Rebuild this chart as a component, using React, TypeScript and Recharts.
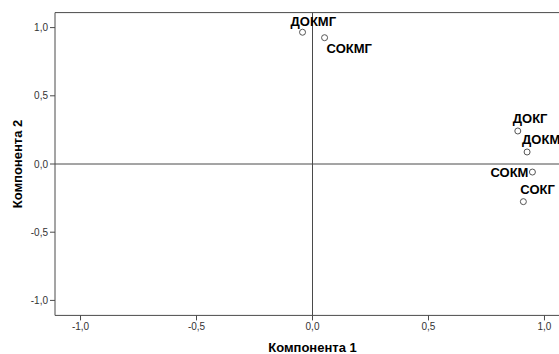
import * as React from "react"
import { ScatterChart, Scatter, XAxis, YAxis, ReferenceLine, ReferenceArea } from "recharts"

// component loadings
const pointNames = ["ДОКМГ", "СОКМГ", "ДОКГ", "ДОКМ", "СОКМ", "СОКГ"]
const comp1 = [-0.043, 0.052, 0.885, 0.925, 0.948, 0.909]
const comp2 = [0.966, 0.926, 0.242, 0.088, -0.059, -0.276]
const axisTicks = [-1, -0.5, 0, 0.5, 1]
const axisDomain = [-1.11, 1.11]

// where each point label sits next to its marker
const labelPlacement: Record<string, { dx: number; dy: number; anchor: "start" | "end" }> = {
  "ДОКМГ": { dx: -12, dy: -11, anchor: "start" },
  "СОКМГ": { dx: 2, dy: 11, anchor: "start" },
  "ДОКГ": { dx: -5, dy: -12, anchor: "start" },
  "ДОКМ": { dx: -5, dy: -12, anchor: "start" },
  "СОКМ": { dx: -4, dy: 0, anchor: "end" },
  "СОКГ": { dx: -3, dy: -12, anchor: "start" },
}

const data = pointNames.map((name, i) => ({ name, x: comp1[i], y: comp2[i] }))

const font = "'Liberation Sans', Arial, sans-serif"
const lineColor = "#4a4a4a"
const fmt = (v: number) => v.toFixed(1).replace(".", ",")

const PointShape = (props: any) => {
  const { cx, cy, payload } = props
  const p = labelPlacement[payload.name]
  return (
    <g>
      <circle cx={cx} cy={cy} r={3} fill="#fff" stroke="#555" strokeWidth={1} />
      <text
        x={cx + p.dx}
        y={cy + p.dy}
        textAnchor={p.anchor}
        dominantBaseline="central"
        fontFamily={font}
        fontWeight="bold"
        fontSize={13}
        fill="#000"
      >
        {payload.name}
      </text>
    </g>
  )
}

export default function App() {
  const tickStyle = { fontSize: 10, fontFamily: font, fill: "#333" }
  return (
    <div style={{ position: "absolute", left: 0, top: 0, width: 559, height: 354, overflow: "hidden", background: "#fff" }}>
      <ScatterChart width={620} height={354} margin={{ top: 12.6, right: 50, bottom: 0, left: 0 }}>
        <XAxis
          type="number"
          dataKey="x"
          domain={axisDomain}
          ticks={axisTicks}
          tickFormatter={fmt}
          axisLine={false}
          tickLine={{ stroke: lineColor }}
          tickSize={5}
          tick={tickStyle}
          height={38.6}
          label={{
            value: "Компонента 1",
            position: "insideBottom",
            offset: 2,
            style: { fontSize: 13, fontWeight: "bold", fontFamily: font, fill: "#000" },
          }}
        />
        <YAxis
          type="number"
          dataKey="y"
          domain={axisDomain}
          ticks={axisTicks}
          tickFormatter={fmt}
          axisLine={false}
          tickLine={{ stroke: lineColor }}
          tickSize={5}
          tick={tickStyle}
          width={55}
          label={{
            value: "Компонента 2",
            angle: -90,
            position: "insideLeft",
            offset: 17,
            style: { fontSize: 13, fontWeight: "bold", fontFamily: font, fill: "#000", textAnchor: "middle" },
          }}
        />
        <ReferenceArea
          x1={axisDomain[0]}
          x2={axisDomain[1]}
          y1={axisDomain[0]}
          y2={axisDomain[1]}
          fill="none"
          stroke={lineColor}
          strokeWidth={1}
        />
        <ReferenceLine x={0} stroke={lineColor} strokeWidth={1} />
        <ReferenceLine y={0} stroke={lineColor} strokeWidth={1} />
        <Scatter data={data} shape={PointShape} isAnimationActive={false} />
      </ScatterChart>
    </div>
  )
}
